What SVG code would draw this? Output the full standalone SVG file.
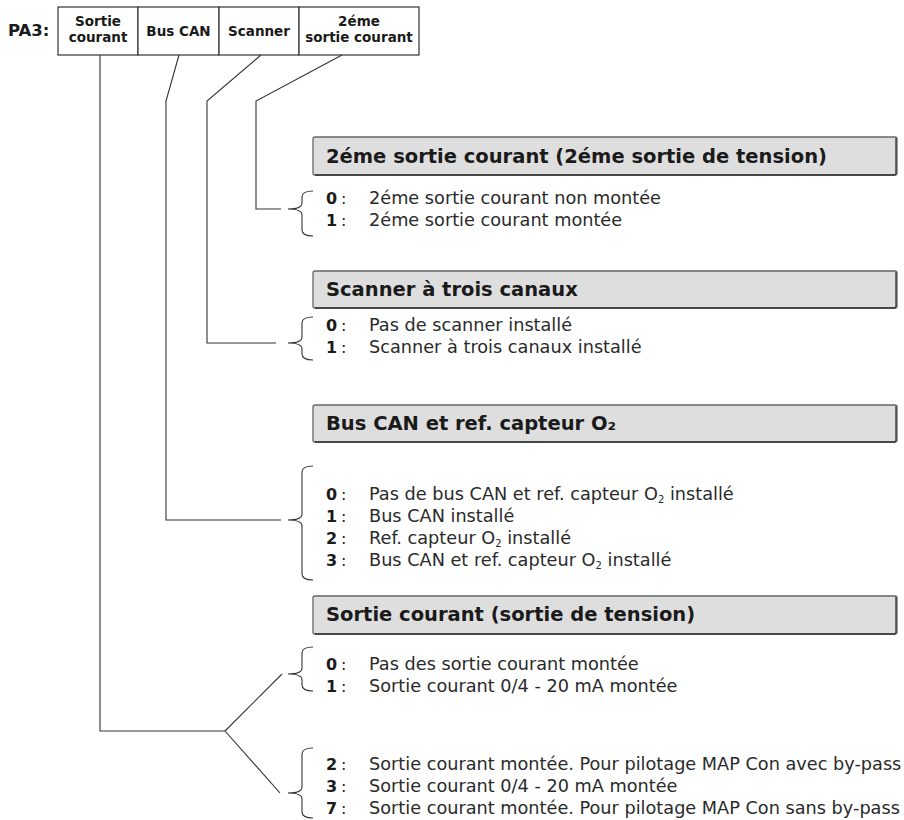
<svg xmlns="http://www.w3.org/2000/svg" width="904" height="820" viewBox="0 0 904 820">
  <style>
    .bg { fill: #ffffff; }
    .cell { fill: #ffffff; stroke: #333333; stroke-width: 1.2; }
    .cellt { font-family: "DejaVu Sans", "Liberation Sans", sans-serif; font-weight: bold; font-size: 13.5px; fill: #1a1a1a; text-anchor: middle; }
    .pa { font-family: "DejaVu Sans", "Liberation Sans", sans-serif; font-weight: bold; font-size: 16.5px; fill: #1a1a1a; }
    .head { fill: #dedede; stroke: #666666; stroke-width: 1.3; }
    .headt { font-family: "DejaVu Sans", "Liberation Sans", sans-serif; font-weight: bold; font-size: 19.5px; fill: #1a1a1a; }
    .num { font-family: "DejaVu Sans", "Liberation Sans", sans-serif; font-weight: bold; font-size: 16px; fill: #1a1a1a; }
    .col { font-family: "DejaVu Sans", "Liberation Sans", sans-serif; font-size: 16px; fill: #1a1a1a; }
    .desc { font-family: "DejaVu Sans", "Liberation Sans", sans-serif; font-size: 17.7px; fill: #2a2a2a; }
    .sub { font-size: 10px; }
    .wire { fill: none; stroke: #333333; stroke-width: 1.1; }
    .brace { fill: none; stroke: #333333; stroke-width: 1.1; }
    .edge { fill: none; stroke: #333333; stroke-width: 1.3; }
  </style>

  <rect class="bg" x="0" y="0" width="904" height="820"/>

  <!-- code table -->
  <g id="code-table">
    <text class="pa" x="8" y="36">PA3:</text>
    <rect class="cell" x="58" y="7" width="80" height="48"/>
    <rect class="cell" x="138" y="7" width="81" height="48"/>
    <rect class="cell" x="219" y="7" width="80" height="48"/>
    <rect class="cell" x="299" y="7" width="120" height="48"/>
    <text class="cellt" x="98" y="26">Sortie</text>
    <text class="cellt" x="98" y="42">courant</text>
    <text class="cellt" x="178.5" y="36">Bus CAN</text>
    <text class="cellt" x="259" y="36">Scanner</text>
    <text class="cellt" x="359" y="26">2éme</text>
    <text class="cellt" x="359" y="42">sortie courant</text>
  </g>

  <!-- connectors from the table columns to the option lists -->
  <g id="connectors">
    <polyline class="wire" points="342,55 256,101 256,209 281,209"/>
    <polyline class="wire" points="261,55 207,101 207,343 276,343"/>
    <polyline class="wire" points="179,55 166,101 166,520 281,520"/>
    <polyline class="wire" points="100,55 100,731 225,731"/>
    <line class="wire" x1="225" y1="731" x2="282" y2="674"/>
    <line class="wire" x1="225" y1="731" x2="280" y2="793"/>
  </g>

  <!-- 2nd current output -->
  <g id="node-2nd-output">
    <rect class="head" x="313" y="137" width="584" height="38" rx="2"/>
    <path class="edge" d="M896,138 V173 Q896,175 894,175 H315"/>
    <text class="headt" x="326" y="163">2éme sortie courant (2éme sortie de tension)</text>
    <path class="brace" d="M313,191 Q302,191 302,197 L302,203 Q302,209 288,209 Q302,209 302,215 L302,230 Q302,236 313,236"/>
    <text class="num" x="326" y="204">0</text><text class="col" x="341" y="204">:</text>
    <text class="desc" x="369" y="204">2éme sortie courant non montée</text>
    <text class="num" x="326" y="226">1</text><text class="col" x="341" y="226">:</text>
    <text class="desc" x="369" y="226">2éme sortie courant montée</text>
  </g>

  <!-- scanner -->
  <g id="node-scanner">
    <rect class="head" x="313" y="271" width="584" height="37" rx="2"/>
    <path class="edge" d="M896,272 V306 Q896,308 894,308 H315"/>
    <text class="headt" x="326" y="296">Scanner à trois canaux</text>
    <path class="brace" d="M313,317 Q302,317 302,323 L302,337 Q302,343 288,343 Q302,343 302,349 L302,354 Q302,360 313,360"/>
    <text class="num" x="326" y="331">0</text><text class="col" x="341" y="331">:</text>
    <text class="desc" x="369" y="331">Pas de scanner installé</text>
    <text class="num" x="326" y="353">1</text><text class="col" x="341" y="353">:</text>
    <text class="desc" x="369" y="353">Scanner à trois canaux installé</text>
  </g>

  <!-- CAN bus and O2 sensor reference -->
  <g id="node-can-bus">
    <rect class="head" x="313" y="405" width="584" height="37" rx="2"/>
    <path class="edge" d="M896,406 V440 Q896,442 894,442 H315"/>
    <text class="headt" x="326" y="430">Bus CAN et ref. capteur O₂</text>
    <path class="brace" d="M313,466 Q302,466 302,472 L302,514 Q302,520 288,520 Q302,520 302,526 L302,574 Q302,580 313,580"/>
    <text class="num" x="326" y="500">0</text><text class="col" x="341" y="500">:</text>
    <text class="desc" x="369" y="500">Pas de bus CAN et ref. capteur O<tspan class="sub" dy="3">2</tspan><tspan dy="-3"> installé</tspan></text>
    <text class="num" x="326" y="522">1</text><text class="col" x="341" y="522">:</text>
    <text class="desc" x="369" y="522">Bus CAN installé</text>
    <text class="num" x="326" y="544">2</text><text class="col" x="341" y="544">:</text>
    <text class="desc" x="369" y="544">Ref. capteur O<tspan class="sub" dy="3">2</tspan><tspan dy="-3"> installé</tspan></text>
    <text class="num" x="326" y="566">3</text><text class="col" x="341" y="566">:</text>
    <text class="desc" x="369" y="566">Bus CAN et ref. capteur O<tspan class="sub" dy="3">2</tspan><tspan dy="-3"> installé</tspan></text>
  </g>

  <!-- current output -->
  <g id="node-current-output">
    <rect class="head" x="313" y="596" width="584" height="38" rx="2"/>
    <path class="edge" d="M896,597 V632 Q896,634 894,634 H315"/>
    <text class="headt" x="326" y="621">Sortie courant (sortie de tension)</text>
    <path class="brace" d="M313,647 Q302,647 302,653 L302,668 Q302,674 288,674 Q302,674 302,680 L302,685 Q302,691 313,691"/>
    <text class="num" x="326" y="670">0</text><text class="col" x="341" y="670">:</text>
    <text class="desc" x="369" y="670">Pas des sortie courant montée</text>
    <text class="num" x="326" y="692">1</text><text class="col" x="341" y="692">:</text>
    <text class="desc" x="369" y="692">Sortie courant 0/4 - 20 mA montée</text>
    <path class="brace" d="M313,748 Q302,748 302,754 L302,787 Q302,793 288,793 Q302,793 302,799 L302,812 Q302,818 313,818"/>
    <text class="num" x="326" y="770">2</text><text class="col" x="341" y="770">:</text>
    <text class="desc" x="369" y="770">Sortie courant montée. Pour pilotage MAP Con avec by-pass</text>
    <text class="num" x="326" y="792">3</text><text class="col" x="341" y="792">:</text>
    <text class="desc" x="369" y="792">Sortie courant 0/4 - 20 mA montée</text>
    <text class="num" x="326" y="814">7</text><text class="col" x="341" y="814">:</text>
    <text class="desc" x="369" y="814">Sortie courant montée. Pour pilotage MAP Con sans by-pass</text>
  </g>
</svg>
